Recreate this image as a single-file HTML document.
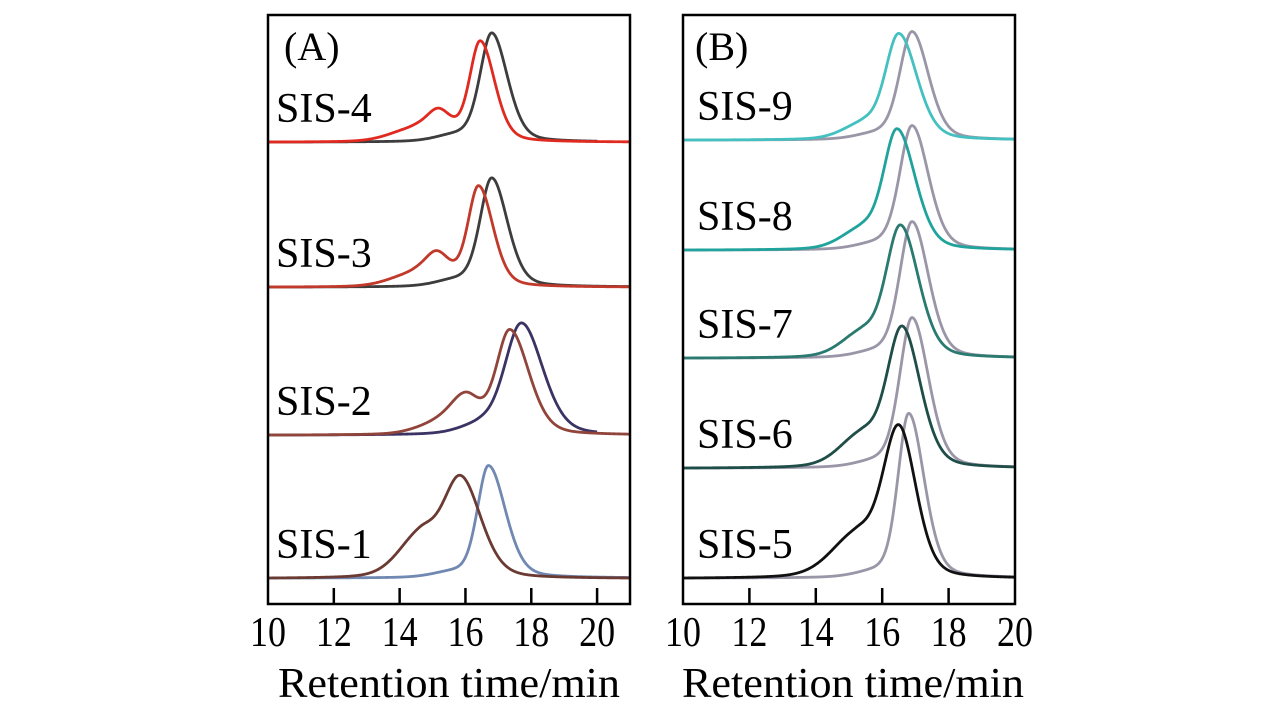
<!DOCTYPE html>
<html><head><meta charset="utf-8"><style>
html,body{margin:0;padding:0;background:#fff;}
svg{display:block;font-family:"Liberation Serif",serif;}
</style></head><body>
<svg id="chart" width="1283" height="709" viewBox="0 0 1283 709" xmlns="http://www.w3.org/2000/svg">
<rect x="0" y="0" width="1283" height="709" fill="#fff"/>
<g id="layer"></g>
</svg>
<script>
// Panel definitions
const panelNames = ["A", "B"];
const xMin = [10, 10];
const xMax = [21, 20];
const tickValues = [10, 12, 14, 16, 18, 20];
const tickLabels = ["10", "12", "14", "16", "18", "20"];
const axisTitle = "Retention time/min";

// Panel A sample labels and baselines (signal offset units)
const labelsA = ["SIS-4", "SIS-3", "SIS-2", "SIS-1"];
const offsetsA = [462, 317, 169, 26];
// Panel B
const labelsB = ["SIS-9", "SIS-8", "SIS-7", "SIS-6", "SIS-5"];
const offsetsB = [464, 354, 246, 136, 26];

// Each trace: list of peaks [center(min), height, sigmaLeft, sigmaRight]
const tracesA = [
  {offset:0, end:20, color:"#3d3d3d", peaks:[[16.8,108,0.36,0.48],[15.7,6,0.6,0.6]]},
  {offset:0, end:21, color:"#e02a1f", peaks:[[16.45,100,0.33,0.44],[15.2,28,0.38,0.42],[14.4,12,0.7,0.5]]},
  {offset:1, end:21, color:"#3d3d3d", peaks:[[16.8,108,0.36,0.48],[15.7,6,0.6,0.6]]},
  {offset:1, end:21, color:"#c0392b", peaks:[[16.4,100,0.33,0.44],[15.15,30,0.38,0.42],[14.4,12,0.7,0.5]]},
  {offset:2, end:20, color:"#3a3363", peaks:[[17.7,112,0.52,0.65],[16.4,8,0.6,0.4]]},
  {offset:2, end:21, color:"#91443a", peaks:[[17.35,104,0.42,0.58],[16.0,38,0.5,0.45],[15.0,8,0.6,0.5]]},
  {offset:3, end:21, color:"#7189b2", peaks:[[16.7,112,0.34,0.52],[15.6,5,0.6,0.5]]},
  {offset:3, end:21, color:"#6a3a33", peaks:[[15.85,100,0.55,0.62],[14.6,40,0.65,0.5]]}
];
const tracesB = [
  {offset:0, end:20, color:"#9a96a8", peaks:[[16.9,108,0.38,0.5],[15.8,5,0.6,0.5]]},
  {offset:0, end:20, color:"#45c0c0", peaks:[[16.5,106,0.42,0.55],[15.4,14,0.6,0.4]]},
  {offset:1, end:20, color:"#9a96a8", peaks:[[16.9,124,0.38,0.5],[15.8,5,0.6,0.5]]},
  {offset:1, end:20, color:"#1fa39c", peaks:[[16.45,120,0.42,0.55],[15.35,18,0.6,0.45]]},
  {offset:2, end:20, color:"#9a96a8", peaks:[[16.9,136,0.38,0.5],[15.8,5,0.6,0.5]]},
  {offset:2, end:20, color:"#2a7a70", peaks:[[16.55,132,0.45,0.55],[15.35,22,0.6,0.45]]},
  {offset:3, end:20, color:"#9a96a8", peaks:[[16.9,150,0.38,0.5],[15.8,5,0.6,0.5]]},
  {offset:3, end:20, color:"#1f4d47", peaks:[[16.6,140,0.47,0.55],[15.35,30,0.65,0.5]]},
  {offset:4, end:20, color:"#9a96a8", peaks:[[16.8,164,0.33,0.47],[15.8,5,0.6,0.5]]},
  {offset:4, end:20, color:"#111111", peaks:[[16.5,150,0.5,0.52],[15.2,40,0.75,0.55]]}
];

const NS = "http://www.w3.org/2000/svg";
const layer = document.getElementById("layer");
const panels = [
  {left:268, right:630, top:15, bottom:604, labels:labelsA, offsets:offsetsA, traces:tracesA, labelX:276, letterX:284, baseTop:604},
  {left:683, right:1015, top:15, bottom:604, labels:labelsB, offsets:offsetsB, traces:tracesB, labelX:697, letterX:695, baseTop:604}
];
function yScale(p, v){ return p.baseTop - v; }
function xScale(p, i, t){ return p.left + (t - xMin[i]) / (xMax[i] - xMin[i]) * (p.right - p.left); }
function sig(peaks, t){
  let s = 0;
  for (const pk of peaks){
    const sd = t < pk[0] ? pk[2] : pk[3];
    const u = (t - pk[0]) / sd;
    const gauss = Math.exp(-0.5 * u * u);
    const lor = 1 / (1 + (u / 1.177) * (u / 1.177));
    s += pk[1] * (0.72 * gauss + 0.28 * lor);
  }
  return s;
}
function mk(tag, attrs, parent){
  const el = document.createElementNS(NS, tag);
  for (const k in attrs) el.setAttribute(k, attrs[k]);
  (parent || layer).appendChild(el);
  return el;
}

panels.forEach((p, i) => {
  const g = mk("g", {});
  
  
  p.traces.forEach((tr, k) => {
    const base = p.offsets[tr.offset];
    const base0 = sig(tr.peaks, xMin[i]);
    let d = "";
    for (let t = xMin[i]; t <= tr.end + 1e-9; t += 0.02){
      const x = xScale(p, i, t), y = yScale(p, base + sig(tr.peaks, t) - base0);
      d += (d ? "L" : "M") + x.toFixed(2) + " " + y.toFixed(2);
    }
    const path = mk("path", {d:d, fill:"none", stroke:tr.color, "stroke-width":2.8, "stroke-linejoin":"round"}, g);
    
    
  });
  const fr = mk("rect", {x:p.left, y:p.top, width:p.right - p.left, height:p.bottom - p.top, fill:"none", stroke:"#000", "stroke-width":2.5}, g);
  
  
  tickValues.forEach((tv, j) => {
    const x = xScale(p, i, tv);
    if (tv > xMin[i] && tv < xMax[i]){
      const tk = mk("line", {x1:x, x2:x, y1:p.bottom - 16, y2:p.bottom, stroke:"#000", "stroke-width":2.5}, g);
      
      
    }
    const tl = mk("text", {x:x, y:646, "text-anchor":"middle", "font-size":42, textLength:36, lengthAdjust:"spacingAndGlyphs"}, g);
    tl.textContent = tickLabels[j];
    
    
  });
  const at = mk("text", {x:(i === 0 ? 278 : 682), y:697, "font-size":42, textLength:342, lengthAdjust:"spacingAndGlyphs"}, g);
  at.textContent = axisTitle;
  
  
  const pl = mk("text", {x:p.letterX, y:60, "font-size":40}, g);
  pl.textContent = "(" + panelNames[i] + ")";
  
  
  p.labels.forEach((lb, j) => {
    const y = yScale(p, p.offsets[j]) - 20;
    const tx = mk("text", {x:p.labelX, y:y, "font-size":42}, g);
    tx.textContent = lb;
    
    
  });
});
</script>
</body></html>
